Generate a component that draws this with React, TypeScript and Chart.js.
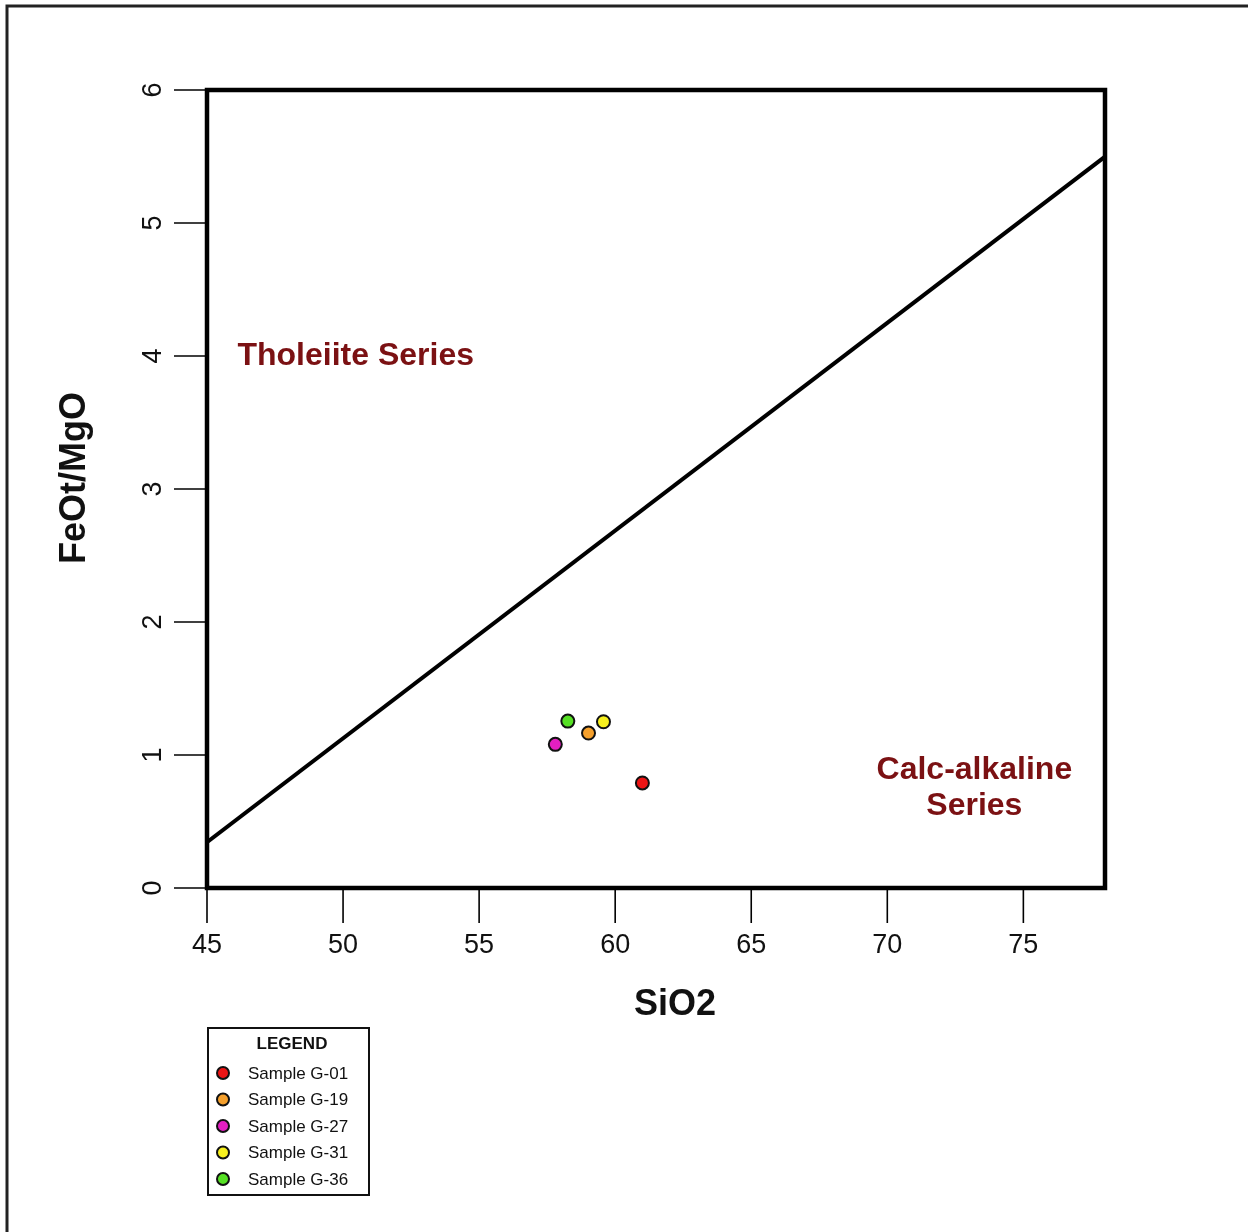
import React, { useEffect, useRef } from "react";
import { Chart, registerables } from "chart.js";

Chart.register(...registerables);

// ---- data ----
const sampleLabels = ["Sample G-01", "Sample G-19", "Sample G-27", "Sample G-31", "Sample G-36"];
const sampleSiO2 = [61.0, 59.02, 57.8, 59.57, 58.26];
const sampleFeOtMgO = [0.79, 1.165, 1.08, 1.25, 1.255];
const sampleColors = ["#ec1414", "#f5a02c", "#e41fc2", "#f7f01e", "#56e024"];

const boundarySiO2 = [45, 78];
const boundaryFeOtMgO = [0.344, 5.499];

const xTicks = [45, 50, 55, 60, 65, 70, 75];
const yTicks = [0, 1, 2, 3, 4, 5, 6];

const xTitle = "SiO2";
const yTitle = "FeOt/MgO";
const legendTitle = "LEGEND";
const tholeiiteLabel = ["Tholeiite Series"];
const calcAlkalineLabel = ["Calc-alkaline", "Series"];

const FONT = '"Liberation Sans", Arial, Helvetica, sans-serif';
const FIELD_COLOR = "#7b1113";

const decorPlugin = {
  id: "decor",
  beforeDraw(chart: any) {
    const ctx = chart.ctx;
    ctx.save();
    ctx.fillStyle = "#ffffff";
    ctx.fillRect(0, 0, chart.width, chart.height);
    // outer frame (top and left visible)
    ctx.strokeStyle = "#222222";
    ctx.lineWidth = 3;
    ctx.beginPath();
    ctx.moveTo(7, chart.height + 5);
    ctx.lineTo(7, 6);
    ctx.lineTo(chart.width + 5, 6);
    ctx.stroke();
    ctx.restore();
  },
  afterDatasetsDraw(chart: any) {
    const ctx = chart.ctx;
    const a = chart.chartArea;
    const xs = chart.scales.x;
    const ys = chart.scales.y;
    ctx.save();

    // field labels
    ctx.fillStyle = FIELD_COLOR;
    ctx.font = `bold 32px ${FONT}`;
    ctx.textBaseline = "middle";
    ctx.textAlign = "left";
    ctx.fillText(tholeiiteLabel[0], xs.getPixelForValue(46.12), ys.getPixelForValue(4.0));
    ctx.textAlign = "center";
    ctx.fillText(calcAlkalineLabel[0], xs.getPixelForValue(73.2), ys.getPixelForValue(0.887));
    ctx.fillText(calcAlkalineLabel[1], xs.getPixelForValue(73.2), ys.getPixelForValue(0.617));

    // ticks
    ctx.strokeStyle = "#000";
    ctx.lineWidth = 1.6;
    ctx.fillStyle = "#111";
    ctx.font = `27px ${FONT}`;
    for (const t of xTicks) {
      const px = xs.getPixelForValue(t);
      ctx.beginPath();
      ctx.moveTo(px, a.bottom);
      ctx.lineTo(px, a.bottom + 35);
      ctx.stroke();
      ctx.textAlign = "center";
      ctx.textBaseline = "middle";
      ctx.fillText(String(t), px, a.bottom + 58);
    }
    for (const t of yTicks) {
      const py = ys.getPixelForValue(t);
      ctx.beginPath();
      ctx.moveTo(a.left, py);
      ctx.lineTo(a.left - 33, py);
      ctx.stroke();
      ctx.save();
      ctx.translate(a.left - 53, py);
      ctx.rotate(-Math.PI / 2);
      ctx.textAlign = "center";
      ctx.textBaseline = "middle";
      ctx.fillText(String(t), 0, 0);
      ctx.restore();
    }

    // plot box
    ctx.lineWidth = 4.5;
    ctx.strokeStyle = "#000";
    ctx.strokeRect(a.left, a.top, a.right - a.left, a.bottom - a.top);

    // axis titles
    ctx.fillStyle = "#111";
    ctx.font = `bold 36px ${FONT}`;
    ctx.textAlign = "center";
    ctx.textBaseline = "middle";
    ctx.fillText(xTitle, 675, 1005);
    ctx.save();
    ctx.translate(75, 478);
    ctx.rotate(-Math.PI / 2);
    ctx.fillText(yTitle, 0, 0);
    ctx.restore();

    // legend
    const lx = 208, ly = 1028, lw = 161, lh = 167;
    ctx.lineWidth = 2;
    ctx.strokeStyle = "#111";
    ctx.strokeRect(lx, ly, lw, lh);
    ctx.font = `bold 17px ${FONT}`;
    ctx.textAlign = "center";
    ctx.fillText(legendTitle, 292, 1044);
    const ds = chart.data.datasets.filter((d: any) => d.isSample);
    ds.forEach((d: any, i: number) => {
      const cy = 1073 + i * 26.5;
      ctx.beginPath();
      ctx.arc(223, cy, 6, 0, Math.PI * 2);
      ctx.fillStyle = d.backgroundColor;
      ctx.fill();
      ctx.lineWidth = 2;
      ctx.strokeStyle = "#111";
      ctx.stroke();
      ctx.fillStyle = "#111";
      ctx.font = `17px ${FONT}`;
      ctx.textAlign = "left";
      ctx.textBaseline = "middle";
      ctx.fillText(d.label, 248, cy + 1);
    });

    ctx.restore();
  },
};

export default function App() {
  const ref = useRef<HTMLCanvasElement>(null);
  useEffect(() => {
    if (!ref.current) return;
    const datasets: any[] = [
      {
        label: "Boundary",
        data: boundarySiO2.map((x, i) => ({ x, y: boundaryFeOtMgO[i] })),
        showLine: true,
        borderColor: "#000",
        borderWidth: 4,
        pointRadius: 0,
        order: 5,
      },
      ...sampleLabels.map((label, i) => ({
        label,
        isSample: true,
        data: [{ x: sampleSiO2[i], y: sampleFeOtMgO[i] }],
        backgroundColor: sampleColors[i],
        borderColor: "#111",
        borderWidth: 2,
        pointRadius: 6.5,
        order: 0,
      })),
    ];
    const chart = new Chart(ref.current, {
      type: "scatter",
      data: { datasets },
      options: {
        responsive: false,
        animation: false,
        layout: { padding: { left: 207, top: 90, right: 143, bottom: 344 } },
        plugins: { legend: { display: false }, tooltip: { enabled: false } },
        scales: {
          x: { type: "linear", min: 45, max: 78, display: false },
          y: { type: "linear", min: 0, max: 6, display: false },
        },
      },
      plugins: [decorPlugin],
    } as any);
    return () => chart.destroy();
  }, []);
  return (
    <div style={{ position: "absolute", left: 0, top: 0, width: 1248, height: 1232, background: "#fff" }}>
      <canvas ref={ref} width={1248} height={1232} style={{ display: "block" }} />
    </div>
  );
}
